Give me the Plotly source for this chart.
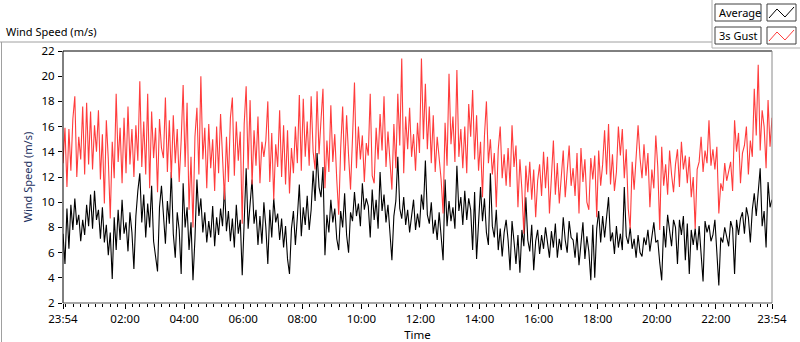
import pandas as pd
import plotly.graph_objects as go

# ---------------- data ----------------
start_time = "2000-01-01 23:54"
end_time = "2000-01-02 23:54"

avg_speed = [
    7.5, 5.1, 9.5, 6.3, 9.8, 7.8, 10.3, 8.2, 9.0, 6.9, 8.6, 7.4, 9.8, 8.1, 10.6, 7.9, 10.9, 8.6, 9.4, 7.1,
    9.6, 6.8, 8.2, 5.8, 7.6, 3.9, 8.8, 6.2, 9.4, 7.0, 10.2, 7.5, 8.4, 6.1, 9.2, 7.6, 4.7, 8.9, 10.9, 12.3,
    8.4, 10.6, 7.2, 9.9, 8.0, 11.3, 6.9, 5.8, 4.5, 9.6, 11.3,
    9.0, 6.7, 10.1, 8.3, 12.4, 7.5, 5.6, 9.2, 7.8, 4.3, 11.5, 8.0, 9.6, 6.2, 8.4, 3.8, 7.1, 11.8, 8.9, 10.3,
    7.6, 9.2, 6.8, 8.5, 7.2, 9.7, 6.5, 8.8, 7.4, 9.5, 8.1, 11.2, 7.7, 9.3, 6.9, 8.7, 6.4, 9.8, 7.5, 8.6,
    4.2, 9.1, 12.7, 7.9, 10.2, 11.8, 8.3, 9.4, 6.6, 8.9, 6.7, 10.0,
    8.0, 5.1, 9.4, 7.2, 10.3, 8.4, 9.1, 7.0, 8.7, 6.4, 8.1, 5.5, 4.3, 7.9, 9.3, 6.6, 8.8, 11.4, 7.3, 9.6,
    8.2, 10.5, 7.8, 9.4, 12.5, 10.1, 13.9, 11.2, 10.4, 12.8, 5.8, 9.0, 7.6, 10.2, 8.4, 9.5, 7.1, 6.2, 9.3, 8.0,
    10.7, 7.4, 6.0, 9.2, 8.5, 10.8, 8.9, 9.9, 8.1, 11.5, 9.4, 10.3,
    9.7, 7.2, 11.0, 8.6, 10.2, 7.9, 12.4, 9.3, 10.6, 8.4, 9.8, 7.3, 5.4, 8.9, 10.1, 13.6, 9.5, 8.7, 10.4, 8.2,
    9.4, 7.6, 8.9, 10.2, 7.8, 9.1, 8.0, 10.6, 9.4, 13.3, 9.0, 8.3, 10.0, 7.5, 8.6, 7.0, 9.2, 7.4, 5.4, 11.8,
    8.1, 10.1, 8.5, 9.6, 7.9, 12.9, 9.3, 10.4, 8.2, 10.9, 8.6, 10.3,
    9.4, 6.2, 10.8, 5.5, 9.0, 11.2, 8.5, 10.3, 7.6, 6.6, 12.3, 8.1, 7.2, 9.4, 6.2, 7.9, 5.7, 7.6, 8.6, 7.0,
    4.6, 8.5, 6.9, 5.1, 7.4, 4.4, 7.8, 6.5, 10.4, 7.0, 6.1, 8.2, 4.6, 6.9, 7.8, 5.9, 7.4, 6.3, 8.0, 6.7,
    5.6, 7.7, 6.4, 8.3, 5.6, 7.1, 6.2, 8.8, 7.0, 6.0, 8.5, 7.2,
    7.0, 5.6, 7.6, 5.0, 6.9, 8.4, 5.5, 7.3, 6.1, 3.8, 8.2, 4.0, 7.9, 9.3, 6.8, 8.9, 7.2, 9.0, 10.4, 6.9,
    7.6, 5.9, 8.1, 6.4, 7.5, 6.2, 11.2, 7.3, 6.7, 8.0, 6.3, 7.1, 5.6, 7.4, 6.0, 5.7, 7.2, 6.6, 7.8, 6.1,
    7.5, 8.4, 6.8, 7.0, 5.2, 3.8, 8.1, 6.4, 9.0, 7.7, 6.5, 8.6,
    8.0, 5.1, 8.6, 7.4, 8.9, 5.4, 8.3, 4.3, 7.8, 6.6, 7.9, 6.2, 8.1, 5.9, 3.7, 8.5, 7.6, 8.2, 6.9, 7.4,
    8.6, 6.0, 3.4, 7.2, 6.8, 8.0, 7.1, 6.5, 8.5, 7.9, 4.3, 8.6, 7.4, 8.7, 9.2, 7.5, 9.6, 8.8, 6.8, 9.4,
    10.7, 8.9, 10.8, 12.7, 8.1, 9.3, 6.4, 11.6, 9.6, 10.2,
]

gust_speed = [
    13.1, 15.9, 11.2, 15.8, 12.5, 16.6, 18.4, 12.0, 15.2, 13.4, 17.6, 12.2, 17.9, 13.0, 17.2, 12.6, 16.1, 14.0, 17.3, 11.8,
    15.4, 9.9, 16.5, 13.4, 8.7, 14.8, 11.9, 18.6, 13.2, 15.9, 11.5, 16.7, 12.3, 17.6, 13.0, 15.8, 12.0, 16.1, 13.3, 19.6,
    12.8, 16.4, 12.2, 18.6, 11.1, 17.2, 13.5, 15.9, 10.8, 16.6, 14.3,
    13.5, 18.3, 12.4, 16.5, 11.9, 16.9, 13.1, 15.8, 11.6, 14.9, 19.3, 12.8, 17.9, 9.4, 13.6, 8.0, 15.2, 17.5, 12.2, 20.0,
    13.4, 15.9, 11.1, 16.2, 12.7, 15.0, 10.9, 16.0, 12.3, 17.0, 13.5, 10.2, 15.2, 11.6, 16.7, 18.3, 12.1, 16.4, 13.3, 15.6,
    8.3, 16.2, 19.2, 12.6, 18.1, 11.4, 15.7, 12.9, 16.8, 11.5, 14.8, 13.6,
    14.9, 18.0, 11.6, 15.5, 10.2, 14.6, 12.8, 17.3, 12.0, 16.1, 11.4, 15.7, 10.7, 14.3, 12.3, 16.0, 13.1, 18.5, 12.5, 18.2,
    13.6, 16.4, 12.9, 18.4, 14.0, 12.6, 18.8, 13.8, 16.5, 19.0, 11.1, 14.9, 12.4, 17.7, 13.2, 15.4, 11.8, 9.0, 14.3, 17.6,
    12.5, 16.9, 13.7, 11.0, 15.1, 19.5, 12.7, 16.0, 13.4, 15.3, 11.6, 14.7,
    13.7, 18.6, 12.1, 11.5, 15.9, 13.4, 17.0, 14.1, 18.4, 12.8, 15.6, 13.0, 11.0, 16.2, 12.7, 18.6, 14.5, 21.4, 12.3, 16.8,
    14.2, 17.5, 13.6, 15.4, 12.5, 16.3, 13.9, 21.4, 15.0, 19.4, 14.2, 17.6, 13.1, 16.9, 12.4, 15.2, 13.6, 11.8, 9.1, 16.3,
    12.9, 20.2, 14.6, 16.8, 13.2, 20.5, 13.6, 15.8, 12.7, 16.0, 12.3, 17.8,
    15.2, 18.9, 13.4, 16.9, 12.5, 14.8, 10.4, 15.3, 18.0, 13.1, 15.0, 12.2, 13.9, 9.6, 14.2, 16.0, 11.9, 13.8, 11.3, 14.3,
    11.2, 16.1, 12.8, 14.5, 9.6, 13.4, 11.0, 7.5, 12.9, 10.8, 13.2, 10.2, 12.6, 8.8, 11.7, 13.0, 10.5, 14.0, 11.1, 13.6,
    9.1, 12.4, 14.9, 10.6, 13.1, 9.9, 12.3, 14.1, 10.4, 12.8, 14.5, 11.3,
    12.7, 10.5, 13.9, 9.1, 14.3, 11.6, 13.4, 10.0, 9.4, 13.5, 11.8, 13.7, 8.8, 14.1, 11.3, 13.0, 15.7, 12.2, 16.2, 11.4,
    13.8, 10.9, 12.4, 16.0, 13.7, 15.8, 11.9, 14.2, 9.5, 7.9, 13.2, 11.0, 14.0, 16.1, 13.5, 11.9, 14.6, 12.1, 13.9, 9.6,
    12.6, 11.1, 15.3, 12.8, 7.8, 14.4, 11.3, 13.0, 10.6, 14.1, 12.2, 10.8,
    13.0, 14.2, 11.2, 14.8, 12.6, 13.7, 11.5, 13.6, 10.4, 12.0, 7.9, 12.6, 13.2, 15.2, 12.4, 14.1, 13.1, 16.5, 12.9, 14.2,
    12.6, 14.4, 9.1, 11.5, 10.9, 13.1, 11.7, 12.6, 13.2, 10.9, 16.5, 14.0, 15.5, 11.5, 13.9, 14.5, 16.0, 12.2, 14.9, 13.6,
    19.0, 15.3, 20.9, 14.1, 17.3, 16.0, 12.7, 18.1, 14.4, 16.7,
]

x_tick_labels = ["23:54", "02:00", "04:00", "06:00", "08:00", "10:00", "12:00",
                 "14:00", "16:00", "18:00", "20:00", "22:00", "23:54"]
y_tick_values = [2, 4, 6, 8, 10, 12, 14, 16, 18, 20, 22]

# ---------------- geometry helpers ----------------
W, H = 800, 342
PL, PR, PT, PB = 63, 772, 51, 303  # plot area in pixels


def px(x):
    return (x - PL) / (PR - PL)


def py(y):
    return (PB - y) / (PB - PT)


t0 = pd.Timestamp(start_time)
t1 = pd.Timestamp(end_time)
avg_times = pd.date_range(t0, t1, periods=len(avg_speed))
gust_times = pd.date_range(t0, t1, periods=len(gust_speed))

tick_times = [t0] + [pd.Timestamp("2000-01-02") + pd.Timedelta(hours=h) for h in range(2, 24, 2)] + [t1]
minor_times = pd.date_range(pd.Timestamp("2000-01-02 00:00"), t1, freq="15min")

FONT = "Noto Sans"
TXT = "#000000"

fig = go.Figure()
fig.add_trace(go.Scatter(x=avg_times, y=avg_speed, mode="lines", name="Average",
                         line=dict(color="#000000", width=1.1), showlegend=False))
fig.add_trace(go.Scatter(x=gust_times, y=gust_speed, mode="lines", name="3s Gust",
                         line=dict(color="#ff3c3c", width=1.1), showlegend=False))

fig.update_layout(
    width=W, height=H,
    margin=dict(l=PL, r=W - PR, t=PT, b=H - PB, autoexpand=False),
    paper_bgcolor="white", plot_bgcolor="white",
    font=dict(family=FONT, size=11, color=TXT),
    xaxis=dict(
        type="date", range=[t0, t1], showgrid=False, zeroline=False, showline=False, automargin=False,
        tickmode="array", tickvals=tick_times, ticktext=x_tick_labels,
        ticks="outside", ticklen=5, tickcolor="#000000",
        tickfont=dict(family=FONT, size=11.5, color=TXT),
        minor=dict(tickmode="array", tickvals=list(minor_times), ticks="outside",
                   ticklen=3, tickcolor="#000000", showgrid=False),
        title=dict(text="Time", font=dict(family=FONT, size=11.5, color=TXT), standoff=12),
    ),
    yaxis=dict(
        range=[2, 22], tickmode="array", tickvals=y_tick_values, automargin=False,
        showgrid=False, zeroline=False, showline=False,
        ticks="outside", ticklen=4, tickcolor="#000000", ticklabelstandoff=1,
        tickfont=dict(family=FONT, size=11.5, color=TXT),
        title=dict(text="Wind Speed (m/s)", font=dict(family=FONT, size=11, color="#1c2f5e"), standoff=6),
    ),
)

shapes = []
# plot frame
shapes.append(dict(type="line", xref="paper", yref="paper", x0=0, x1=1, y0=1, y1=1, line=dict(color="#000", width=1)))
shapes.append(dict(type="line", xref="paper", yref="paper", x0=0, x1=0, y0=0, y1=1, line=dict(color="#000", width=1)))
shapes.append(dict(type="line", xref="paper", yref="paper", x0=1, x1=1, y0=0, y1=1, line=dict(color="#8a8a8a", width=1)))
shapes.append(dict(type="line", xref="paper", yref="paper", x0=0, x1=1, y0=0, y1=0, line=dict(color="#505050", width=1)))
# outer frame
shapes.append(dict(type="line", xref="paper", yref="paper", x0=px(0), x1=px(712), y0=py(42), y1=py(42),
                   line=dict(color="#a0a0a0", width=1)))
shapes.append(dict(type="line", xref="paper", yref="paper", x0=px(1.5), x1=px(1.5), y0=py(42), y1=py(342),
                   line=dict(color="#a0a0a0", width=1)))
# legend panel
shapes.append(dict(type="rect", xref="paper", yref="paper", x0=px(712), x1=px(801), y0=py(48), y1=py(-2),
                   line=dict(color="#b0b0b0", width=1), fillcolor="white"))
for top, col in [(4, "#000000"), (27, "#ff3c3c")]:
    shapes.append(dict(type="rect", xref="paper", yref="paper", x0=px(715), x1=px(761), y0=py(top + 17), y1=py(top),
                       line=dict(color="#404040", width=1), fillcolor="white"))
    shapes.append(dict(type="rect", xref="paper", yref="paper", x0=px(767), x1=px(796), y0=py(top + 17), y1=py(top),
                       line=dict(color="#404040", width=1), fillcolor="white"))
    pts = [(769, top + 14), (777, top + 5), (785, top + 13), (794, top + 3)]
    path = "M " + " L ".join(f"{px(a):.5f},{py(b):.5f}" for a, b in pts)
    shapes.append(dict(type="path", xref="paper", yref="paper", path=path, line=dict(color=col, width=1)))
fig.update_layout(shapes=shapes)

annotations = [
    dict(text="Wind Speed (m/s)", xref="paper", yref="paper", x=px(4), y=py(31), xanchor="left", yanchor="middle",
         showarrow=False, font=dict(family=FONT, size=11, color=TXT)),
    dict(text="Average", xref="paper", yref="paper", x=px(717), y=py(12.5), xanchor="left", yanchor="middle",
         showarrow=False, font=dict(family=FONT, size=11, color=TXT)),
    dict(text="3s Gust", xref="paper", yref="paper", x=px(717), y=py(35.5), xanchor="left", yanchor="middle",
         showarrow=False, font=dict(family=FONT, size=11, color=TXT)),
]
fig.update_layout(annotations=annotations)

fig.write_html("out.html", config={"displayModeBar": False},
               post_script="document.body.style.margin='0';document.body.style.padding='0';")
